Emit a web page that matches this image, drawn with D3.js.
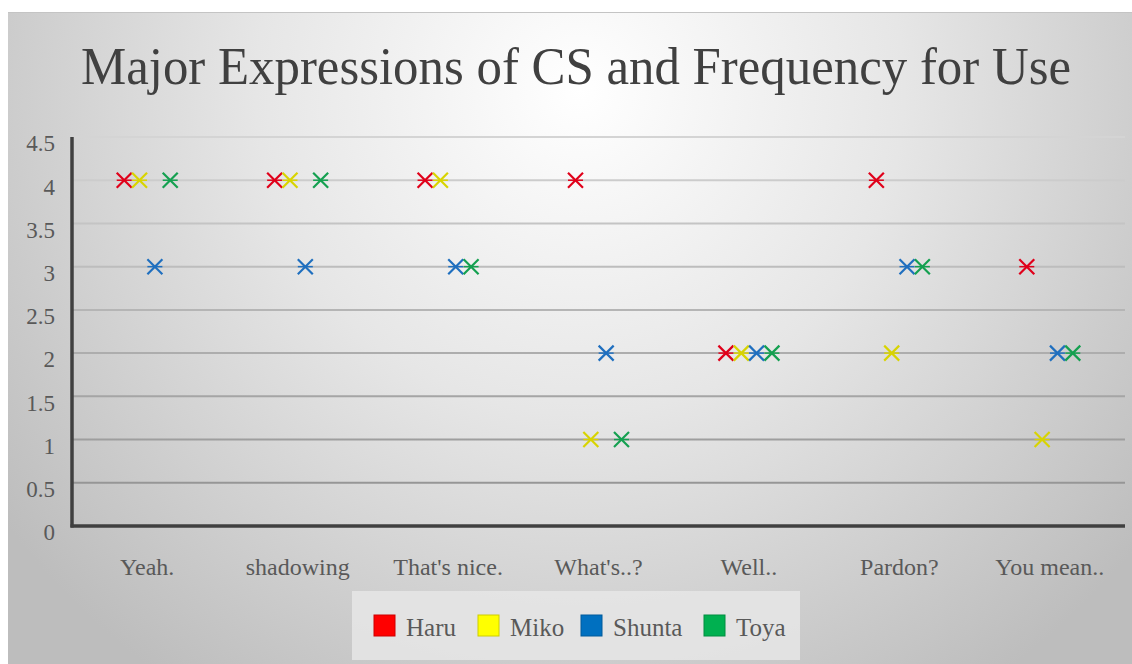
<!DOCTYPE html>
<html>
<head>
<meta charset="utf-8">
<script src="https://cdn.jsdelivr.net/npm/d3@7"></script>
<style>
    html, body { margin: 0; padding: 0; background: #ffffff; }
    svg { display: block; }
    text { font-family: "Liberation Serif", "DejaVu Serif", serif; }
</style>
</head>
<body>
<div id="chart"></div>
<script>
var categories = ["Yeah.", "shadowing", "That's nice.", "What's..?", "Well..", "Pardon?", "You mean.."];
var seriesNames = ["Haru", "Miko", "Shunta", "Toya"];
var seriesColors = ["#ff0000", "#ffff00", "#0070c0", "#00b050"];
var markColors = ["#e0001a", "#d8d400", "#1f6fbf", "#14a050"];
var haru = [4, 4, 4, 4, 2, 4, 3];
var miko = [4, 4, 4, 1, 2, 2, 1];
var shunta = [3, 3, 3, 2, 2, 3, 2];
var toya = [4, 4, 3, 1, 2, 3, 2];
var yTicks = [0, 0.5, 1, 1.5, 2, 2.5, 3, 3.5, 4, 4.5];

var seriesValues = [haru, miko, shunta, toya];

var width = 1132, height = 664;
var margin = { top: 137, right: 7, bottom: 138, left: 72 };

var svg = d3.select("#chart").append("svg")
    .attr("width", width)
    .attr("height", height);

// background panel with radial gradient
var defs = svg.append("defs");
var bg = defs.append("radialGradient")
    .attr("id", "bg")
    .attr("gradientUnits", "userSpaceOnUse")
    .attr("cx", 580).attr("cy", 90).attr("r", 720);
bg.append("stop").attr("offset", "0%").attr("stop-color", "#ffffff");
bg.append("stop").attr("offset", "45%").attr("stop-color", "#e6e6e6");
bg.append("stop").attr("offset", "100%").attr("stop-color", "#bdbdbd");

svg.append("rect")
    .attr("x", 8).attr("y", 12)
    .attr("width", width - 8).attr("height", height - 12)
    .attr("fill", "url(#bg)");
svg.append("line")
    .attr("x1", 8).attr("x2", width)
    .attr("y1", 12.5).attr("y2", 12.5)
    .style("stroke", "#c4c4c4")
    .style("stroke-width", "1px");

// title
svg.append("text")
    .attr("x", 576)
    .attr("y", 84)
    .attr("text-anchor", "middle")
    .attr("textLength", 990)
    .attr("lengthAdjust", "spacingAndGlyphs")
    .style("font-size", "52px")
    .style("fill", "#404040")
    .text("Major Expressions of CS and Frequency for Use");

var plotW = width - margin.left - margin.right,
    plotH = height - margin.top - margin.bottom;

var g = svg.append("g")
    .attr("transform", "translate(" + margin.left + "," + margin.top + ")");

var xScale = d3.scaleBand()
    .domain(categories)
    .range([0, plotW])
    .padding(0);

var xInner = d3.scalePoint()
    .domain(seriesNames)
    .range([-23, 23]);

var yScale = d3.scaleLinear()
    .domain([0, 4.5])
    .range([plotH, 0]);

// gridlines, lighter at the top
var gridColor = d3.scaleLinear().domain([4.5, 0]).range(["#d4d4d4", "#8e8e8e"]);
g.append("g")
    .attr("class", "grid")
    .selectAll("line")
    .data(yTicks.filter(function(d) { return d > 0; }))
    .enter()
    .append("line")
    .attr("x1", 0)
    .attr("x2", plotW)
    .attr("y1", function(d) { return yScale(d); })
    .attr("y2", function(d) { return yScale(d); })
    .style("stroke", function(d) { return gridColor(d); })
    .style("stroke-width", "2px");

// y axis
var yAxis = d3.axisLeft(yScale)
    .tickValues(yTicks)
    .tickSize(0)
    .tickPadding(17)
    .tickFormat(function(d) { return d; });

var yAxisG = g.append("g")
    .attr("class", "y axis")
    .call(yAxis);
yAxisG.select(".domain").remove();
yAxisG.selectAll("text")
    .attr("dy", "0.6em")
    .style("font-family", "'Liberation Serif', serif")
    .style("font-size", "23px")
    .style("fill", "#595959");

// x axis
var xAxis = d3.axisBottom(xScale)
    .tickSize(0)
    .tickPadding(32);

var xAxisG = g.append("g")
    .attr("class", "x axis")
    .attr("transform", "translate(0," + plotH + ")")
    .call(xAxis);
xAxisG.select(".domain").remove();
xAxisG.selectAll("text")
    .style("font-family", "'Liberation Serif', serif")
    .style("font-size", "24px")
    .style("fill", "#595959");

// axis lines
g.append("line")
    .attr("x1", 0).attr("x2", 0)
    .attr("y1", yScale(4.5)).attr("y2", plotH + 1.5)
    .style("stroke", "#404040")
    .style("stroke-width", "3.5px");
g.append("line")
    .attr("x1", -1.5).attr("x2", plotW)
    .attr("y1", plotH).attr("y2", plotH)
    .style("stroke", "#404040")
    .style("stroke-width", "3.5px");

// markers (x shapes)
var points = [];
seriesNames.forEach(function(name, si) {
    categories.forEach(function(cat, ci) {
        points.push({ series: name, si: si, cat: cat, value: seriesValues[si][ci] });
    });
});

var s = 7.5;
var marks = g.append("g").attr("class", "marks")
    .selectAll("g")
    .data(points)
    .enter()
    .append("g")
    .attr("transform", function(d) {
        var x = xScale(d.cat) + xScale.bandwidth() / 2 + xInner(d.series);
        return "translate(" + x + "," + yScale(d.value) + ")";
    })
    .style("stroke", function(d) { return markColors[d.si]; })
    .style("stroke-width", "2.2px");

marks.append("line").attr("x1", -s).attr("y1", -s).attr("x2", s).attr("y2", s);
marks.append("line").attr("x1", -s).attr("y1", s).attr("x2", s).attr("y2", -s);
marks.append("line").attr("x1", -s).attr("y1", 0).attr("x2", s).attr("y2", 0)
    .style("stroke-width", "1.5px");

// legend
var legend = svg.append("g").attr("class", "legend");
legend.append("rect")
    .attr("x", 352).attr("y", 591)
    .attr("width", 448).attr("height", 69)
    .attr("fill", "#e6e6e6")
    .attr("opacity", 0.85);

var legendX = [374, 478, 581, 704];
var items = legend.selectAll("g.item")
    .data(seriesNames)
    .enter()
    .append("g")
    .attr("class", "item")
    .attr("transform", function(d, i) { return "translate(" + legendX[i] + ",615)"; });

items.append("rect")
    .attr("width", 21).attr("height", 21)
    .attr("fill", function(d, i) { return seriesColors[i]; })
    .style("stroke", function(d, i) { return d3.color(seriesColors[i]).darker(0.6); })
    .style("stroke-width", "1px");

items.append("text")
    .attr("x", 32)
    .attr("y", 21)
    .style("font-size", "25px")
    .style("fill", "#595959")
    .text(function(d) { return d; });
</script>
</body>
</html>
